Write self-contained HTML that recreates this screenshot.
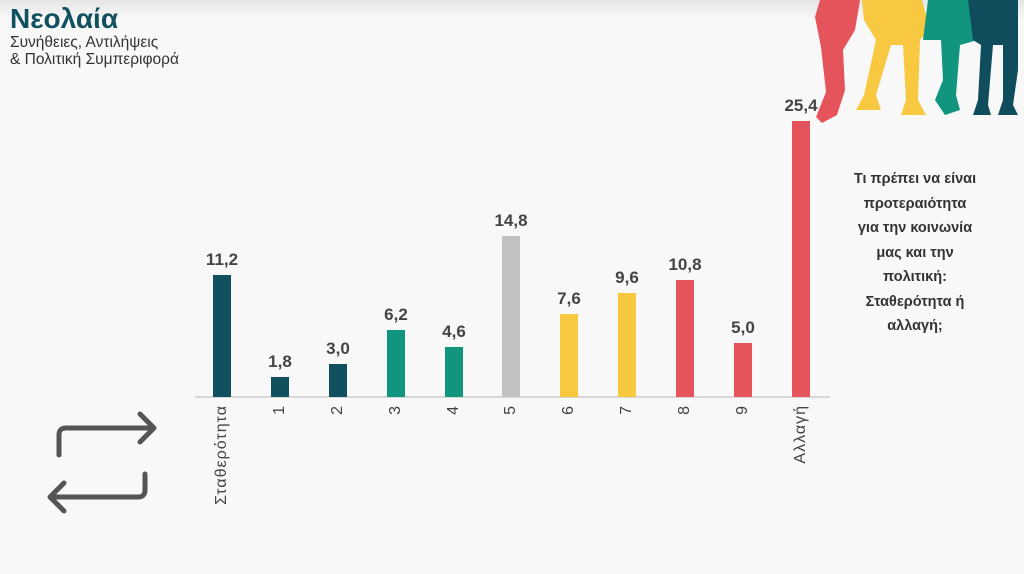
<!DOCTYPE html>
<html><head><meta charset="utf-8"><style>
body{margin:0;width:1024px;height:574px;background:#f8f8f8;font-family:"Liberation Sans","DejaVu Sans",sans-serif;overflow:hidden;position:relative}
.top{position:absolute;left:0;top:0;width:1024px;height:20px;background:linear-gradient(#e6e6e6,#f8f8f8)}
.t1{position:absolute;left:10px;top:3px;font-size:28px;font-weight:bold;color:#11505e}
.t2{position:absolute;left:10px;top:34px;font-size:15.5px;line-height:17px;color:#333}
.bar{position:absolute;width:18px}
.v{position:absolute;width:60px;text-align:center;font-size:17px;font-weight:bold;color:#444}
.lab{position:absolute;top:405px;font-size:16px;letter-spacing:1px;color:#444;writing-mode:vertical-rl;transform:rotate(180deg);text-align:right;width:20px}
.q{position:absolute;left:832px;top:167px;width:166px;text-align:center;font-size:14.5px;font-weight:bold;color:#333;line-height:24.5px}
</style></head><body>
<div class="top"></div>
<div class="t1">Νεολαία</div>
<div class="t2">Συνήθειες, Αντιλήψεις<br>&amp; Πολιτική Συμπεριφορά</div>
<svg style="position:absolute;left:0;top:0" width="1024" height="574">
<g fill="#e5545a"><path d="M820 0h40l-5 30-12 20 2 40-8 25-15 8-6-6 10-25-5-45-6-30z"/></g>
<g fill="#f8c940"><path d="M862 0h60l8 30-10 10-2 60 8 15-25 0 5-15-3-55-12 0-15 50 5 15-25 0 8-15 12-55-12-20z"/></g>
<g fill="#11957f"><path d="M928 0h42l8 40-18 5-4 50 4 15-15 5-10-15 8-20-2-40-18 0z"/></g>
<g fill="#0f4c5c"><path d="M968 0h50v70l-5 35 5 10-20 0 5-15 0-55-10 0-5 60 3 10-18 0 5-15 3-55-8-5z"/></g>
<line x1="195" y1="397" x2="830" y2="397" stroke="#ccc" stroke-width="1.5"/>
<g fill="none" stroke="#555" stroke-width="5" stroke-linecap="round" stroke-linejoin="round">
<path d="M59 455v-20q0-7 7-7h86"/><path d="M140 414l14 14-14 14"/>
<path d="M145 474v16q0 7-7 7h-86"/><path d="M64 483l-14 14 14 14"/>
</g>
</svg>
<div class="bar" style="left:213px;top:275px;height:122px;background:#11505e"></div>
<div class="bar" style="left:271px;top:377px;height:20px;background:#11505e"></div>
<div class="bar" style="left:329px;top:364px;height:33px;background:#11505e"></div>
<div class="bar" style="left:387px;top:330px;height:67px;background:#11957f"></div>
<div class="bar" style="left:445px;top:347px;height:50px;background:#11957f"></div>
<div class="bar" style="left:502px;top:236px;height:161px;background:#c2c2c2"></div>
<div class="bar" style="left:560px;top:314px;height:83px;background:#f8c940"></div>
<div class="bar" style="left:618px;top:293px;height:104px;background:#f8c940"></div>
<div class="bar" style="left:676px;top:280px;height:117px;background:#e5545a"></div>
<div class="bar" style="left:734px;top:343px;height:54px;background:#e5545a"></div>
<div class="bar" style="left:792px;top:121px;height:276px;background:#e5545a"></div>
<div class="v" style="left:192px;top:250px">11,2</div>
<div class="v" style="left:250px;top:352px">1,8</div>
<div class="v" style="left:308px;top:339px">3,0</div>
<div class="v" style="left:366px;top:305px">6,2</div>
<div class="v" style="left:424px;top:322px">4,6</div>
<div class="v" style="left:481px;top:211px">14,8</div>
<div class="v" style="left:539px;top:289px">7,6</div>
<div class="v" style="left:597px;top:268px">9,6</div>
<div class="v" style="left:655px;top:255px">10,8</div>
<div class="v" style="left:713px;top:318px">5,0</div>
<div class="v" style="left:771px;top:96px">25,4</div>
<div class="lab" style="left:213px">Σταθερότητα</div>
<div class="lab" style="left:271px">1</div>
<div class="lab" style="left:329px">2</div>
<div class="lab" style="left:387px">3</div>
<div class="lab" style="left:445px">4</div>
<div class="lab" style="left:502px">5</div>
<div class="lab" style="left:560px">6</div>
<div class="lab" style="left:618px">7</div>
<div class="lab" style="left:676px">8</div>
<div class="lab" style="left:734px">9</div>
<div class="lab" style="left:792px">Αλλαγή</div>
<div class="q">Τι πρέπει να είναι<br>προτεραιότητα<br>για την κοινωνία<br>μας και την<br>πολιτική:<br>Σταθερότητα ή<br>αλλαγή;</div>
</body></html>
